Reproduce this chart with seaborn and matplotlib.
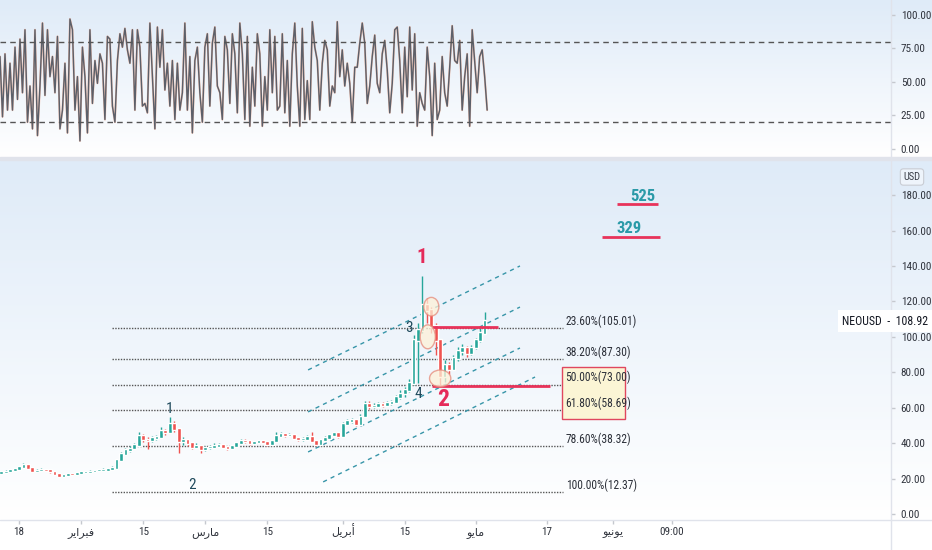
import numpy as np
import pandas as pd
import matplotlib
matplotlib.use("Agg")
import matplotlib.pyplot as plt
import matplotlib.transforms as mtransforms
from matplotlib import font_manager
from matplotlib.patches import Rectangle, Ellipse
from matplotlib.lines import Line2D
from matplotlib.colors import LinearSegmentedColormap
import seaborn as sns

# ---- values (x axis = day of year 2021) ----

# oscillator (stoch) readings, evenly spaced from osc_days[0] to osc_days[1]
stoch_k = [69, 24, 71, 29, 64, 29, 76, 37, 82, 42, 89, 20, 47, 15, 89, 10, 47, 94, 40, 89,
           54, 69, 42, 84, 15, 29, 64, 12, 97, 89, 29, 54, 6, 76, 54, 12, 89, 34, 66, 49,
           71, 64, 22, 84, 82, 32, 20, 66, 86, 76, 90, 74, 64, 89, 29, 89, 76, 32, 34, 27,
           94, 54, 15, 91, 61, 89, 44,
           64, 32, 66, 22, 64, 29, 42, 94, 29, 69, 12, 66, 76, 42, 20, 76, 86, 32, 79, 91,
           47, 42, 22, 84, 74, 34, 86, 71, 27, 94, 71, 22, 84, 17, 61, 32, 86, 71, 17, 54,
           29, 89, 42, 84, 29, 32, 86, 27, 66, 17, 71, 94, 47, 17, 90, 22, 51, 22, 95, 76, 66,
           29, 64, 81, 74, 32, 47, 42, 95, 54, 74, 47, 64, 49, 20, 61, 61, 79, 94, 79,
           34, 47, 69, 85, 49, 42, 71, 81, 59, 27, 49, 89, 91, 66, 27, 76, 39, 91, 44, 86,
           17, 42, 34, 29, 76, 54, 10, 64, 22, 29, 69, 42, 32, 61, 92, 66, 64, 81, 29, 54,
           71, 17, 89, 66, 42, 69, 74, 54, 29]
osc_days = [12.7, 122.6]

# daily NEOUSD candles, day 13 .. 122
price_days = list(range(13, 123))
first_open = 23.0
closes = [23.5, 24, 24.8, 25.5, 26.5, 27.7, 26, 24, 24.5, 25,
          24.8, 24, 22.5, 21.5, 22, 22.8, 22.5, 23, 23.5, 23.5,
          24, 24.5, 24.8, 25, 25.3, 26, 30.5, 34, 36, 37,
          39, 44, 42, 41.8, 42.7, 43.5, 47, 46, 51, 48,
          41, 41.8, 40, 38, 38.5, 36.5, 37.5, 38, 38.5, 39,
          38, 37, 38.5, 40, 41.5, 41, 40, 40.5, 41, 40.5,
          39.5, 41, 44, 45, 44.5, 44.6, 43, 42, 42.5, 43.7,
          41, 39.5, 41.8, 43, 44.5, 45.5, 44, 51, 52.5, 53,
          51, 55, 62, 60.7, 61, 62, 61.6, 62.5, 63, 66,
          68, 70, 74, 98, 104, 118, 115, 106, 98, 78,
          84, 82, 88, 92, 94, 91, 94, 98, 102, 108.92]
highs = [24.2, 24.6, 25.4, 26.2, 27.2, 28.6, 28.2, 26.4, 25.2, 25.8,
         25.6, 25.2, 24.3, 22.9, 22.6, 23.4, 23.3, 23.6, 24.0, 24.2,
         24.6, 25.1, 25.6, 25.7, 26.1, 26.8, 31.2, 35.0, 37.2, 38.5,
         40.2, 46.0, 45.0, 43.5, 44.0, 44.8, 49.3, 48.2, 54.5, 52.5,
         48.5, 43.5, 42.5, 40.8, 39.8, 39.0, 38.5, 39.0, 39.8, 40.0,
         39.6, 38.6, 39.2, 40.8, 42.4, 42.2, 41.6, 41.3, 41.8, 41.6,
         41.0, 41.8, 46.5, 46.0, 45.8, 45.6, 45.0, 43.6, 43.2, 44.4,
         46.0, 41.6, 42.4, 43.8, 45.2, 46.4, 46.0, 52.0, 53.8, 54.2,
         53.8, 56.2, 64.0, 63.5, 62.4, 63.2, 63.0, 63.8, 64.5, 67.4,
         70.0, 71.5, 76.0, 101.0, 108.0, 134.5, 122.0, 117.0, 108.0, 99.0,
         87.0, 86.0, 89.5, 94.0, 96.0, 95.0, 95.5, 99.5, 106.0, 114.0]
lows = [22.6, 23.1, 23.6, 24.3, 25.0, 26.1, 25.5, 23.6, 23.5, 24.0,
        24.1, 23.4, 22.0, 20.8, 21.0, 21.6, 21.9, 22.1, 22.6, 22.9,
        23.1, 23.6, 24.0, 24.3, 24.6, 24.9, 25.8, 30.0, 33.2, 35.0,
        36.4, 38.5, 40.8, 36.8, 40.8, 42.0, 43.0, 44.5, 45.5, 46.0,
        34.4, 39.0, 38.5, 36.8, 37.0, 34.2, 35.8, 36.8, 37.4, 37.8,
        37.2, 36.2, 36.6, 38.0, 39.6, 40.2, 39.2, 39.4, 40.0, 39.8,
        38.6, 39.0, 40.8, 43.2, 43.6, 43.8, 42.2, 41.0, 41.4, 42.0,
        40.4, 38.2, 39.0, 41.2, 42.4, 44.0, 43.0, 43.8, 50.0, 51.4,
        49.6, 50.4, 54.6, 59.0, 59.6, 60.2, 60.4, 60.8, 61.4, 62.4,
        65.0, 66.0, 69.0, 73.0, 74.0, 102.0, 108.0, 102.0, 90.0, 73.0,
        74.5, 79.0, 81.0, 86.5, 90.0, 88.5, 89.5, 93.0, 97.0, 101.5]

# fibonacci retracement
fib_pct = [23.6, 38.2, 50.0, 61.8, 78.6, 100.0]
fib_price = [105.01, 87.30, 73.00, 58.69, 38.32, 12.37]
fib_span = [38.0, 139.6]

# dashed channel lines (start day, end day, start price, end price)
chan_d0 = [82.2, 82.2, 82.2, 85.6]
chan_d1 = [130.0, 130.0, 130.0, 133.4]
chan_v0 = [81.3, 57.6, 35.0, 18.1]
chan_v1 = [140.0, 116.8, 93.7, 77.3]

# wave counts
red_waves = ["1", "2"]
red_wave_pos = [(107.8, 145.0), (112.6, 64.5)]
dark_waves = ["3", "4", "1", "2"]
dark_wave_pos = [(105.0, 105.0), (107.0, 67.5), (51.0, 59.3), (56.0, 16.4)]

# targets
targets = ["525", "329"]
target_price = [174.8, 156.5]
target_span = [(152.0, 161.2), (148.5, 161.6)]
target_text_pos = [(157.8, 179.0), (154.6, 161.4)]

# x ticks (Arabic months written as presentation forms, visual order)
feb = "\ufeae\ufef3\ufe8d\ufeae\ufe92\ufed3"   # فبراير
mar = "\ufeb1\ufead\ufe8e\ufee3"               # مارس
apr = "\ufede\ufef3\ufeae\ufe91\ufe83"         # أبريل
may = "\ufeee\ufef3\ufe8e\ufee3"               # مايو
jun = "\ufeee\ufef4\ufee7\ufeee\ufef3"         # يونيو
tick_days = [17, 31, 45, 59, 73, 90, 104, 120, 136, 151, 164.3]
tick_labels = ["18", feb, "15", mar, "15", apr, "15", may, "17", jun, "09:00"]

# ---- fonts: a narrow face like the TradingView one, if there is one ----
sns.set_theme(style="white")
faces = font_manager.fontManager.ttflist
names = {f.name for f in faces}
narrow = [n for n in ["Roboto Condensed", "Liberation Sans Narrow", "Arial Narrow",
                      "Open Sans Condensed"] if n in names]
dv_cond = any(f.name == "DejaVu Sans" and "ondensed" in f.fname for f in faces)
if narrow:
    plt.rcParams["font.family"] = [narrow[0], "DejaVu Sans"]
    fs = 7.6
elif dv_cond:
    plt.rcParams["font.family"] = ["DejaVu Sans"]
    plt.rcParams["font.stretch"] = "condensed"
    fs = 7.2
else:
    plt.rcParams["font.family"] = ["Liberation Sans", "DejaVu Sans"]
    fs = 6.8

W, H = 932, 550
fig = plt.figure(figsize=(W / 100, H / 100), dpi=100)
fig.patch.set_facecolor("white")


def fx(px):
    return px / W


def fy(py):
    return 1 - py / H


grad = LinearSegmentedColormap.from_list("bg", ["#dfebf8", "#ffffff"])
for top, bot in [(0, 157), (160, 520)]:
    bg = fig.add_axes([0, fy(bot), 1, (bot - top) / H], zorder=0)
    bg.imshow(np.linspace(0, 1, 200).reshape(-1, 1), aspect="auto", cmap=grad,
              extent=[0, 1, 0, 1])
    bg.axis("off")

ax_osc = fig.add_axes([0, fy(157), fx(891), 157 / H], zorder=1)
ax = fig.add_axes([0, fy(520), fx(891), 360 / H], zorder=1)
for a in (ax_osc, ax):
    a.patch.set_alpha(0)
    for s in a.spines.values():
        s.set_visible(False)
    a.set_xlim(12.7, 213.7)
    a.yaxis.tick_right()
    a.tick_params(axis="y", length=3, width=1, color="#c5c8ce", labelsize=fs + 0.4,
                  labelcolor="#30343d", pad=4)

# separators
fig.add_artist(Rectangle((0, fy(160)), 1, 3 / H, transform=fig.transFigure,
                         color="#e0e3eb", zorder=2))
fig.add_artist(Line2D([fx(891), fx(891)], [0, 1], transform=fig.transFigure,
                      color="#e0e3eb", lw=1, zorder=2))
fig.add_artist(Line2D([0, 1], [fy(520), fy(520)], transform=fig.transFigure,
                      color="#e0e3eb", lw=1, zorder=2))

# ---- oscillator panel ----
osc = pd.DataFrame({"day": np.linspace(osc_days[0], osc_days[1], len(stoch_k)),
                    "k": stoch_k})
sns.lineplot(data=osc, x="day", y="k", ax=ax_osc, color="#f8c8b6", lw=1.5)
sns.lineplot(data=osc, x="day", y="k", ax=ax_osc, color="#5c606a", lw=1.05)
for lvl in (80, 20):
    ax_osc.axhline(lvl, color="#555", lw=1, dashes=(4, 3))
ax_osc.set_ylim(-6, 111.2)
ax_osc.set_yticks([0, 25, 50, 75, 100])
ax_osc.set_yticklabels([f"{v:.2f}" for v in [0, 25, 50, 75, 100]])
ax_osc.set_xticks([])
ax_osc.set_xlabel("")
ax_osc.set_ylabel("")

# ---- price panel ----
opens = [first_open] + closes[:-1]
cols = ["#26a69a" if c >= o else "#ef5350" for o, c in zip(opens, closes)]
ax.vlines(price_days, lows, highs, colors=cols, lw=1.0, zorder=3)
ax.bar(price_days, [abs(c - o) + 1.0 for o, c in zip(opens, closes)],
       bottom=[min(o, c) - 0.5 for o, c in zip(opens, closes)], width=0.85,
       color=cols, zorder=3)

ax.hlines(fib_price, fib_span[0], fib_span[1], colors="#555",
          linestyles=(0, (1, 1)), lw=1, zorder=2)
ax.add_patch(Rectangle((139.5, 53.6), 14.2, 29.4, facecolor="#fbf5d5",
                       edgecolor="#e0475e", lw=1, zorder=2))
for p, v in zip(fib_pct, fib_price):
    ax.text(140.3, v + 4, f"{p:.2f}%({v:.2f})", fontsize=fs + 0.7, color="#2b2f38",
            va="center", ha="left", zorder=4)

for d0, d1, v0, v1 in zip(chan_d0, chan_d1, chan_v0, chan_v1):
    ax.plot([d0, d1], [v0, v1], color="#3795a8", lw=1, dashes=(3, 3), zorder=2)

ax.hlines([105.3], 110.1, 125.0, colors="#e8335a", lw=2, zorder=4)
ax.hlines([72.2], 110.1, 136.8, colors="#e8335a", lw=2, zorder=4)

for (cx, cy), w, h in [((110.0, 117.0), 3.4, 10.5), ((109.2, 100.0), 3.4, 13.5),
                       ((112.0, 76.5), 4.8, 9.5)]:
    ax.add_patch(Ellipse((cx, cy), w, h, facecolor="#fdf1d8", alpha=0.75,
                         edgecolor="#e58a7a", lw=1, zorder=5))

for t, (d, v) in zip(red_waves, red_wave_pos):
    ax.text(d, v, t, color="#e52b5a", fontsize=17 if t == "2" else 15,
            fontweight="bold", ha="center", va="center", zorder=6)
for t, (d, v) in zip(dark_waves, dark_wave_pos):
    ax.text(d, v, t, color="#1f4a5c", fontsize=11, ha="center", va="center",
            zorder=6)

for t, v, (d0, d1), (tx, ty) in zip(targets, target_price, target_span, target_text_pos):
    ax.hlines(v, d0, d1, colors="#e8335a", lw=2, zorder=4)
    ax.text(tx, ty, t, color="#2a9aa8", fontsize=12, fontweight="bold",
            ha="center", va="center", zorder=4)

ax.set_ylim(-3.4, 199.8)
ax.set_yticks(range(0, 181, 20))
ax.set_yticklabels([f"{v:.2f}" for v in range(0, 181, 20)])
ax.set_xticks(tick_days)
ax.set_xticklabels(tick_labels)
ax.tick_params(axis="x", length=3, width=1, color="#c5c8ce", labelsize=fs + 0.4,
               labelcolor="#30343d", pad=8, bottom=True)
for lbl in ax.get_xticklabels():
    lbl.set_verticalalignment("baseline")

# last price label and currency tag
blend = mtransforms.blended_transform_factory(fig.transFigure, ax.transData)
fig.text(fx(928), closes[-1], "NEOUSD  -  " + f"{closes[-1]:.2f}", transform=blend,
         ha="right", va="center", fontsize=fs + 1.0, color="#131722", zorder=10,
         bbox=dict(boxstyle="square,pad=0.35", fc="white", ec="none"))
fig.text(fx(912), fy(177), "USD", ha="center", va="center", fontsize=fs,
         color="#3a3e48", zorder=10,
         bbox=dict(boxstyle="round,pad=0.3", fc="#eef4fb", ec="#c9ccd3", lw=0.8))

fig.savefig("out.png", dpi=100)
